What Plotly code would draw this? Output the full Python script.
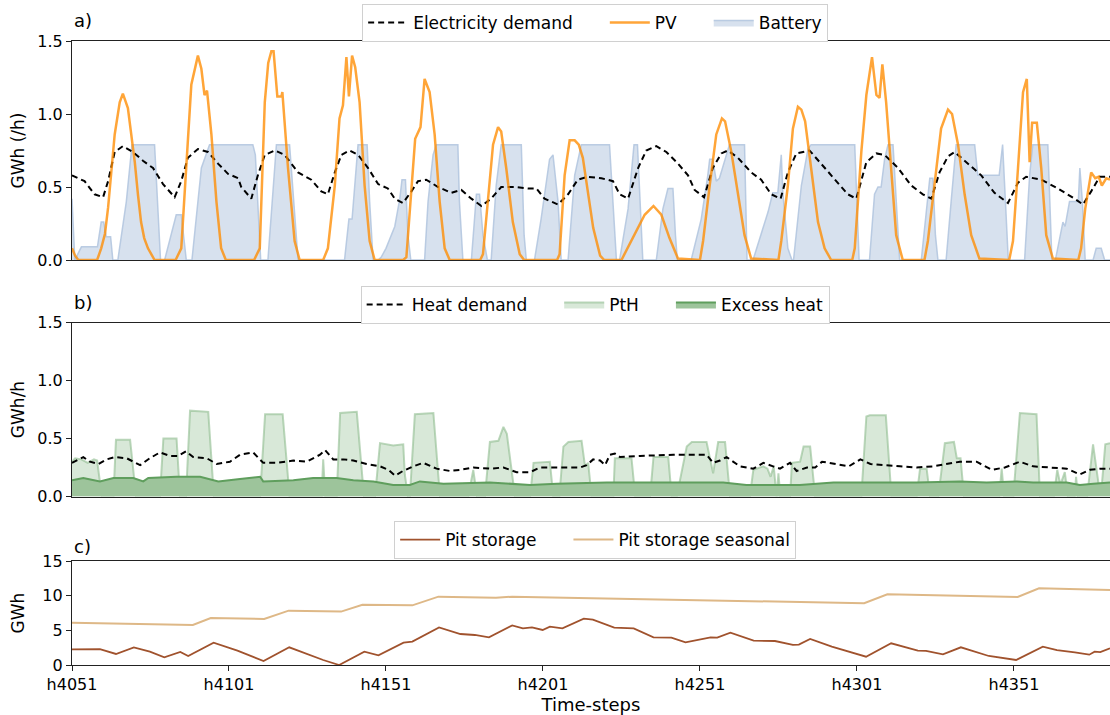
import plotly.graph_objects as go

# ---------------- data (hour offset from h4051) ----------------
tick_hours = [0, 50, 100, 150, 200, 250, 300]
tick_labels = ["h4051", "h4101", "h4151", "h4201", "h4251", "h4301", "h4351"]

pv_t = [0, 1, 2,
        8, 9.3, 10.5, 11.5, 12.5, 13.6, 15.2, 16.2, 17.8, 20, 21, 22, 23, 24.2, 26.3,
        33, 34.8, 36.4, 38, 40.1, 41.2, 42.2, 43, 44.4, 46, 47.5, 49,
        58, 59.8, 61.4, 62.5, 63.5, 64.2, 65.4, 66.7, 67, 68.8, 70.9, 72.5,
        80, 81.5, 83.7, 85.2, 86.3, 87.4, 88.2, 89.2, 90.2, 91.6, 93.2, 94.8, 96.4,
        105.5, 106.5, 108.1, 109.3, 111, 112.3, 113.9, 115.5, 117.1, 118.7, 120.3,
        130, 130.9, 132.5, 134.1, 135.7, 136.7, 138.3, 140.4, 142.6, 144,
        154.5, 155.3, 156.9, 158.5, 160.1, 161.4, 162.7, 164, 166, 168.2, 169.5,
        175, 179.2, 182.4, 185.2, 187.7, 190.3, 193,
        200, 201, 203.1, 205.2, 207, 208, 210, 212.1, 214.2, 216.3,
        225, 225.9, 228, 229.6, 231.2, 232.3, 233.5, 235.4, 237.6, 239.7, 241.8,
        248.5, 249.3, 251.4, 253, 254.8, 256.2, 257.2, 258.1, 259.3, 260.9, 262.5, 264.6,
        271.5, 272.6, 274.7, 276.8, 279, 280.3, 282.2, 284.3, 286.4, 289,
        298.5, 299.7, 301.3, 302.9, 304.1, 305, 305.8, 307.3, 308.7, 310.3, 312.4,
        320.5, 321.4, 322.7, 324.6, 325.9, 327, 328, 329.4, 330.6]
pv_v = [0.08, 0.03, 0,
        0, 0.08, 0.18, 0.36, 0.6, 0.86, 1.08, 1.14, 1.04, 0.67, 0.45, 0.26, 0.15, 0.08, 0,
        0, 0.08, 0.63, 1.2, 1.40, 1.31, 1.13, 1.16, 0.86, 0.40, 0.08, 0,
        0, 0.08, 1.08, 1.35, 1.43, 1.43, 1.12, 1.12, 1.15, 0.63, 0.13, 0,
        0, 0.08, 0.51, 0.97, 1.06, 1.39, 1.12, 1.40, 1.32, 1.08, 0.51, 0.13, 0,
        0, 0.02, 0.51, 0.83, 0.91, 1.24, 1.15, 0.86, 0.40, 0.08, 0,
        0, 0.04, 0.40, 0.79, 0.91, 0.88, 0.63, 0.26, 0.04, 0,
        0, 0.04, 0.58, 0.82, 0.82, 0.79, 0.70, 0.50, 0.22, 0.03, 0,
        0, 0.17, 0.31, 0.37, 0.31, 0.15, 0.01,
        0, 0.13, 0.51, 0.86, 0.97, 0.95, 0.74, 0.45, 0.17, 0.01,
        0, 0.13, 0.51, 0.90, 1.05, 1.03, 0.95, 0.63, 0.26, 0.08, 0,
        0, 0.08, 0.74, 1.13, 1.39, 1.13, 1.11, 1.34, 1.08, 0.63, 0.17, 0,
        0, 0.13, 0.51, 0.90, 1.03, 1.00, 0.79, 0.45, 0.17, 0.01,
        0, 0.13, 0.63, 1.15, 1.24, 0.67, 0.94, 0.94, 0.63, 0.17, 0.01,
        0, 0.08, 0.35, 0.60, 0.56, 0.57, 0.51, 0.56, 0.55]

elec_t = [0, 4, 7.2, 9.9, 11.5, 13.6, 16.2, 19.4, 22.6, 25.8, 29, 32.7, 34.8, 36.9, 40.1,
          43.3, 46.5, 49.7, 52.9, 53.9, 57.1, 59.2, 61.4, 64.6, 67.7, 72, 76.2, 79.4, 81.5,
          83.7, 85.8, 88.4, 91.1, 94.3, 97.5, 100.6, 102.8, 105.4, 108.1, 110.2, 112.8,
          116.6, 120.8, 124, 127.2, 130.4, 133.5, 136.7, 141, 145.2, 147.9, 150.5, 154.8,
          158, 161.1, 164.3, 168.6, 172.3, 174.4, 177.1, 180.3, 182.9, 186.1, 189.3, 193,
          196.2, 198.3, 201.3, 204.1, 206.8, 208.9, 212.1, 216.3, 219.5, 222.7, 225.7, 228,
          230.7, 234.9, 238.6, 242.9, 247.1, 249.8, 253, 256.2, 258.8, 263.1, 267.3, 271,
          273.7, 276.3, 279, 281.1, 284.3, 289.6, 293.8, 298.1, 301.3, 303.9, 308.7, 314,
          319.3, 322, 324.6, 327.3, 330.6]
elec_v = [0.58, 0.54, 0.45, 0.43, 0.54, 0.74, 0.78, 0.74, 0.68, 0.63, 0.52, 0.43, 0.54, 0.70, 0.76,
          0.74, 0.66, 0.59, 0.56, 0.50, 0.42, 0.58, 0.72, 0.75, 0.72, 0.60, 0.55, 0.47, 0.45,
          0.60, 0.72, 0.75, 0.72, 0.63, 0.52, 0.49, 0.42, 0.39, 0.47, 0.54, 0.55,
          0.50, 0.46, 0.48, 0.42, 0.37, 0.42, 0.50, 0.50, 0.49, 0.49, 0.42, 0.38,
          0.45, 0.55, 0.57, 0.56, 0.54, 0.45, 0.42, 0.63, 0.75, 0.78, 0.74, 0.66,
          0.58, 0.48, 0.43, 0.63, 0.73, 0.75, 0.70, 0.60, 0.55, 0.45, 0.42, 0.60,
          0.73, 0.75, 0.66, 0.56, 0.45, 0.42, 0.67, 0.73, 0.72, 0.63, 0.51, 0.45,
          0.42, 0.60, 0.71, 0.74, 0.68, 0.58, 0.46, 0.39, 0.53, 0.57, 0.55, 0.49,
          0.42, 0.38, 0.47, 0.57, 0.57]

batt_t = [0, 0.9, 3, 8.1, 9.3, 10.1, 10.9, 12.3, 13,
          14.6, 17.3, 19.1, 26.3, 28.2,
          29.5, 33.2, 34.8, 36.4,
          38.2, 40.1, 41.2, 43.8, 57.6, 58.4, 60.1,
          62.4, 65.1, 69.3, 72,
          86.8, 88.2, 89.2, 91.1, 94, 94.8, 95.9,
          97.5, 98.5, 100, 102.8, 104.4, 105.1, 106.2, 107, 107.9,
          112.3, 113.4, 115, 116, 122.9, 123.4, 124.5,
          127.2, 128.8, 129.8, 130.9, 132.3,
          133.5, 135.1, 136.7, 143.1, 144, 144.7,
          147.3, 149.4, 152.1, 153.2, 154.8, 155.8,
          158, 160.1, 162.2, 171.2, 173.4,
          174.4, 177.1, 179, 180.1, 181, 181.8,
          186.1, 188.2, 189.8, 191.4, 192.2, 192.8,
          197.2, 200.4, 202.5, 203.1, 204.1, 205.2, 206.2, 207.9, 209.4, 214.2, 215,
          216.9, 219.5, 221.7, 223.2, 224.8, 225.9, 226.4, 228, 229.3,
          229.8, 232.3, 234.4, 235.4, 249.3, 250.7,
          254, 255.6, 256.7, 257.7, 258.8, 259.9, 261.5, 262.5, 263.6,
          270.5, 272.1, 273.2, 274.2, 275, 275.8,
          278.4, 280, 281.6, 287.5, 288.5, 295.3, 296.4, 297.3, 298.2,
          303.4, 305, 306, 310.8, 312.1,
          313.2, 315.6, 316.3, 317.7, 320.5, 321, 321.8, 322.7,
          325.2, 326.2, 327.8, 328.9, 330.6]
batt_v = [0.42, 0, 0.09, 0.09, 0.26, 0.26, 0.16, 0.16, 0,
          0, 0.40, 0.79, 0.79, 0,
          0, 0.31, 0.31, 0,
          0, 0.40, 0.63, 0.79, 0.79, 0.72, 0,
          0, 0.79, 0.79, 0,
          0, 0.28, 0.28, 0.79, 0.79, 0.40, 0,
          0, 0.02, 0.08, 0.23, 0.42, 0.55, 0.55, 0.17, 0,
          0, 0.40, 0.72, 0.79, 0.79, 0.40, 0,
          0, 0.45, 0.45, 0.17, 0,
          0, 0.51, 0.79, 0.79, 0.17, 0,
          0, 0.28, 0.69, 0.72, 0.40, 0,
          0, 0.58, 0.79, 0.79, 0,
          0, 0.35, 0.79, 0.79, 0.40, 0,
          0, 0.35, 0.49, 0.49, 0.17, 0,
          0, 0.28, 0.58, 0.69, 0.69, 0.54, 0.56, 0.69, 0.79, 0.79, 0,
          0, 0.17, 0.33, 0.46, 0.46, 0.72, 0.46, 0.08, 0,
          0, 0.51, 0.76, 0.79, 0.79, 0,
          0, 0.45, 0.50, 0.50, 0.69, 0.79, 0.79, 0.40, 0,
          0, 0.35, 0.56, 0.56, 0.17, 0,
          0, 0.40, 0.79, 0.79, 0.58, 0.58, 0.79, 0.40, 0,
          0, 0.58, 0.79, 0.79, 0,
          0, 0.26, 0.23, 0.40, 0.40, 0.63, 0.40, 0,
          0, 0.08, 0.08, 0, 0]

heat_t = [0, 3.6, 5.7, 8.4, 11, 13.7, 17.4, 21.7, 24.8, 28, 31.2, 33.9, 36.3, 38.6, 42.9,
          46.1, 50.3, 53.5, 57.7, 60.9, 65.2, 70.5, 74.7, 79, 80.6, 83.2, 86.4, 89.6, 93.8,
          98.1, 100.8, 102.9, 105.4, 108.7, 111.9, 116.1, 120.4, 123.6, 127.8, 133.1, 137.4,
          141.6, 145.9, 149.1, 154.4, 161.8, 163.9, 166, 168.2, 169.8, 171.3, 172.9, 174.5,
          180.9, 191.5, 202.1, 204.2, 206.4, 208.5, 212.7, 217, 220.2, 223.3, 225.5, 228.7,
          230.8, 234.1, 236.7, 238.9, 243.1, 247.4, 251.1, 254.3, 263.7, 269, 274.3, 278.5,
          282.8, 288.1, 292.9, 297.1, 301.9, 306.1, 312.5, 316.8, 321, 324.2, 327.4, 330.6]
heat_v = [0.29, 0.34, 0.30, 0.28, 0.32, 0.34, 0.33, 0.27, 0.33, 0.38, 0.35, 0.35, 0.39, 0.34, 0.33,
          0.28, 0.30, 0.36, 0.38, 0.29, 0.29, 0.31, 0.30, 0.36, 0.40, 0.32, 0.32, 0.31, 0.28,
          0.26, 0.23, 0.18, 0.22, 0.26, 0.29, 0.24, 0.22, 0.23, 0.25, 0.24, 0.25,
          0.21, 0.21, 0.25, 0.25, 0.25, 0.27, 0.32, 0.31, 0.27, 0.36, 0.37, 0.34,
          0.35, 0.36, 0.36, 0.29, 0.31, 0.34, 0.26, 0.24, 0.29, 0.26, 0.24, 0.29,
          0.22, 0.25, 0.25, 0.30, 0.28, 0.26, 0.32, 0.28, 0.26, 0.25, 0.26, 0.28,
          0.30, 0.30, 0.23, 0.25, 0.30, 0.26, 0.25, 0.24, 0.19, 0.23, 0.24, 0.24]

pth_t = [0, 1, 3, 5, 7, 8, 9.5,
         13.2, 14, 18.5, 20.4,
         28, 29.1, 33.3, 34.4,
         36.3, 37.6, 43.4, 45.2,
         59.9, 61.5, 67.1, 69.3,
         79.5, 80, 80.7,
         84.3, 85.4, 90.7, 93,
         96.5, 98.1, 102.3, 105.5, 106, 107,
         107.6, 109.2, 115.1, 117.2,
         126.2, 127.8, 129,
         131.5, 133.1, 135.8, 137.4, 138.5, 141.1,
         145.9, 147, 152.2, 153.3,
         155.2, 156.5, 158.1, 162.3, 163.4, 164.4, 165.5,
         172.4, 172.9, 178.2, 179.4,
         184.1, 185.2, 189.9, 191,
         192.6, 195.8, 197.4, 202.1, 204.2, 205.8, 208, 209.6,
         215.9, 217, 220.2, 221.5, 222.5, 223.5, 224.4, 225, 225.6,
         228.7, 229.3, 231.9, 233, 235.1, 236.7,
         251.4, 253, 254.1, 259.2, 261,
         269, 270.1, 272.2, 273.3,
         275.9, 278, 280.9, 281.8, 283, 284.1,
         295.3, 296.1, 296.9,
         299.8, 301.9, 307.2, 308.3,
         312.7, 313.8, 314.8, 316.2, 317.2, 319.3, 319.8, 320.4,
         323.3, 325.2, 327, 328, 329.1, 330.6]
pth_v = [0.30, 0.33, 0.32, 0.29, 0.32, 0.31, 0,
         0, 0.49, 0.49, 0,
         0, 0.50, 0.50, 0,
         0, 0.74, 0.73, 0,
         0, 0.71, 0.71, 0,
         0, 0.32, 0,
         0, 0.72, 0.73, 0,
         0, 0.46, 0.44, 0.45, 0.19, 0,
         0, 0.71, 0.72, 0,
         0, 0.23, 0,
         0, 0.47, 0.48, 0.60, 0.54, 0,
         0, 0.29, 0.30, 0,
         0, 0.43, 0.47, 0.48, 0.26, 0.29, 0,
         0, 0.33, 0.33, 0,
         0, 0.34, 0.34, 0,
         0, 0.43, 0.47, 0.47, 0.20, 0.47, 0.47, 0,
         0, 0.23, 0.26, 0.24, 0.17, 0.26, 0, 0.20, 0,
         0, 0.29, 0.30, 0.43, 0.43, 0,
         0, 0.69, 0.70, 0.70, 0,
         0, 0.24, 0.24, 0,
         0, 0.46, 0.47, 0.33, 0.33, 0,
         0, 0.24, 0,
         0, 0.72, 0.71, 0,
         0, 0.23, 0.10, 0.21, 0, 0, 0.17, 0,
         0, 0.45, 0.10, 0.10, 0.45, 0.46]

excess_t = [0, 3.6, 8.9, 13.2, 19.5, 22.7, 24.3, 33.3, 40.8, 45, 46.6, 53.5, 59.9, 60.9, 70.5,
            76.8, 84.3, 89.6, 96, 102.3, 107.6, 110.8, 116.1, 118.3, 133.1, 145.9, 154.4,
            170.3, 191.5, 207.4, 214.8, 231.8, 242.5, 269, 282.8, 291.3, 300.9, 306.1, 316.8,
            321, 325.3, 330.6]
excess_v = [0.14, 0.16, 0.13, 0.16, 0.16, 0.13, 0.16, 0.17, 0.17, 0.14, 0.13, 0.15, 0.17, 0.13, 0.14,
            0.16, 0.16, 0.14, 0.13, 0.10, 0.10, 0.13, 0.12, 0.11, 0.12, 0.10, 0.11,
            0.12, 0.12, 0.12, 0.10, 0.10, 0.12, 0.12, 0.13, 0.12, 0.13, 0.12, 0.12,
            0.10, 0.11, 0.12]

pit_t = [0, 8.9, 14, 19.7, 24.8, 29.4, 34.5, 37, 45.1, 52.7, 61, 69.2, 80, 85.1, 93.1, 97.6,
         105.6, 108.4, 116.9, 123.7, 128.3, 132.8, 140.2, 143.6, 146.5, 149.9, 152.2, 156.2,
         163, 165.9, 172.7, 178.9, 185.2, 190.9, 195.4, 203.4, 205.5, 209.7, 217.1, 223.9,
         229.6, 231.5, 235.1, 242, 252.9, 260.9, 269.4, 272, 277.4, 283.1, 292, 300.7, 309.2,
         313.7, 319.4, 324, 325.7, 327.5, 330.6]
pit_v = [2.26, 2.3, 1.59, 2.55, 1.92, 1.1, 1.88, 1.3, 3.22, 2.07, 0.58, 2.55, 0.72, 0, 1.92, 1.4,
         3.22, 3.37, 5.43, 4.47, 4.33, 3.99, 5.72, 5.29, 5.43, 5.05, 5.53, 5.29,
         6.69, 6.55, 5.39, 5.29, 3.99, 3.95, 3.27, 3.99, 3.95, 4.66, 3.51, 3.46,
         2.89, 2.95, 3.75, 2.65, 1.2, 3.13, 2.07, 2.05, 1.54, 2.55, 1.3, 0.72, 2.65,
         2.16, 1.83, 1.49, 1.92, 1.85, 2.41]

seasonal_t = [0, 38.5, 44.2, 61.2, 69, 85.7, 92.5, 108.4, 116.7, 132.8, 135, 140.2, 252.3,
              259.7, 301.2, 308, 330.6]
seasonal_v = [6.1, 5.77, 6.78, 6.63, 7.84, 7.7, 8.7, 8.6, 9.86, 9.76, 9.7, 9.86, 8.9,
              10.2, 9.81, 11.07, 10.82]

# ---------------- figure ----------------
FONT = "DejaVu Sans"
GAP = "\u00a0" * 5   # extra spacing between legend entries (matplotlib column spacing)
fig = go.Figure()

# panel a
fig.add_trace(go.Scatter(x=batt_t, y=batt_v, name="Battery", mode="lines", fill="tozeroy",
                         fillcolor="rgba(176,196,222,0.5)",
                         line=dict(color="rgba(176,196,222,0.85)", width=1.5),
                         xaxis="x", yaxis="y", legend="legend", legendrank=3))
fig.add_trace(go.Scatter(x=elec_t, y=elec_v, name="Electricity demand" + GAP, mode="lines",
                         line=dict(color="black", width=2, dash="6px,4px"),
                         xaxis="x", yaxis="y", legend="legend", legendrank=1))
fig.add_trace(go.Scatter(x=pv_t, y=pv_v, name="PV" + GAP, mode="lines",
                         line=dict(color="rgba(255,140,0,0.78)", width=2.5),
                         xaxis="x", yaxis="y", legend="legend", legendrank=2))

# panel b
fig.add_trace(go.Scatter(x=pth_t, y=pth_v, name="PtH" + GAP, mode="lines", fill="tozeroy",
                         fillcolor="rgba(143,188,143,0.35)",
                         line=dict(color="rgba(143,188,143,0.6)", width=2),
                         xaxis="x2", yaxis="y2", legend="legend2", legendrank=2))
fig.add_trace(go.Scatter(x=excess_t, y=excess_v, name="Excess heat", mode="lines", fill="tozeroy",
                         fillcolor="#9dc49b",
                         line=dict(color="#5f9e5d", width=2),
                         xaxis="x2", yaxis="y2", legend="legend2", legendrank=3))
fig.add_trace(go.Scatter(x=heat_t, y=heat_v, name="Heat demand" + GAP, mode="lines",
                         line=dict(color="black", width=2, dash="6px,4px"),
                         xaxis="x2", yaxis="y2", legend="legend2", legendrank=1))

# panel c
fig.add_trace(go.Scatter(x=pit_t, y=pit_v, name="Pit storage" + GAP, mode="lines",
                         line=dict(color="#a0522d", width=1.8),
                         xaxis="x3", yaxis="y3", legend="legend3", legendrank=1))
fig.add_trace(go.Scatter(x=seasonal_t, y=seasonal_v, name="Pit storage seasonal", mode="lines",
                         line=dict(color="#deb887", width=2),
                         xaxis="x3", yaxis="y3", legend="legend3", legendrank=2))

H = 715.0
def dom(top_px, bot_px):
    return [1 - bot_px / H, 1 - top_px / H]

XR = [0, 330.6]
xcommon = dict(range=XR, showgrid=False, zeroline=False, showline=True, linecolor="#222",
               linewidth=1.2, mirror=True)
ycommon = dict(showgrid=False, zeroline=False, showline=True, linecolor="#222", linewidth=1.2,
               ticks="outside", ticklen=5, tickwidth=1.2, tickcolor="#222",
               tickfont=dict(family=FONT, size=16, color="black"))

legend_style = dict(orientation="h", xanchor="center", yanchor="top", bgcolor="white",
                    bordercolor="#d0d0d0", borderwidth=1,
                    font=dict(family=FONT, size=17, color="black"), itemwidth=40)

fig.update_layout(
    width=1110, height=715, template="none",
    paper_bgcolor="white", plot_bgcolor="white",
    margin=dict(l=72, r=0, t=0, b=0),
    font=dict(family=FONT, size=16, color="black"),
    xaxis=dict(**xcommon, domain=[0, 1], anchor="y", showticklabels=False, ticks=""),
    xaxis2=dict(**xcommon, domain=[0, 1], anchor="y2", matches="x", showticklabels=False, ticks=""),
    xaxis3=dict(**xcommon, domain=[0, 1], anchor="y3", matches="x", tickmode="array",
                tickvals=tick_hours, ticktext=tick_labels, ticks="outside", ticklen=5,
                tickwidth=1.2, tickcolor="#222",
                tickfont=dict(family=FONT, size=16, color="black"),
                title=dict(text="Time-steps", font=dict(family=FONT, size=18), standoff=2)),
    yaxis=dict(**ycommon, domain=dom(41, 260), anchor="x", range=[0, 1.5],
               tickvals=[0, 0.5, 1.0, 1.5], tickformat=".1f",
               title=dict(text="GWh (/h)", font=dict(family=FONT, size=17), standoff=8)),
    yaxis2=dict(**ycommon, domain=dom(322.5, 496.5), anchor="x2", range=[0, 1.5],
                tickvals=[0, 0.5, 1.0, 1.5], tickformat=".1f",
                title=dict(text="GWh/h", font=dict(family=FONT, size=17), standoff=8)),
    yaxis3=dict(**ycommon, domain=dom(561, 665), anchor="x3", range=[0, 15],
                tickvals=[0, 5, 10, 15],
                title=dict(text="GWh", font=dict(family=FONT, size=17), standoff=13)),
    legend=dict(**legend_style, x=0.504, y=1 - 4 / H),
    legend2=dict(**legend_style, x=0.504, y=1 - 286 / H),
    legend3=dict(**legend_style, x=0.504, y=1 - 521 / H),
    annotations=[
        dict(text="a)", x=0, y=1 - 20 / H, xref="paper", yref="paper", xanchor="left",
             yanchor="middle", showarrow=False, font=dict(family=FONT, size=18)),
        dict(text="b)", x=0, y=1 - 303 / H, xref="paper", yref="paper", xanchor="left",
             yanchor="middle", showarrow=False, font=dict(family=FONT, size=18)),
        dict(text="c)", x=0, y=1 - 546 / H, xref="paper", yref="paper", xanchor="left",
             yanchor="middle", showarrow=False, font=dict(family=FONT, size=18)),
    ],
)

fig.write_html("out.html")
